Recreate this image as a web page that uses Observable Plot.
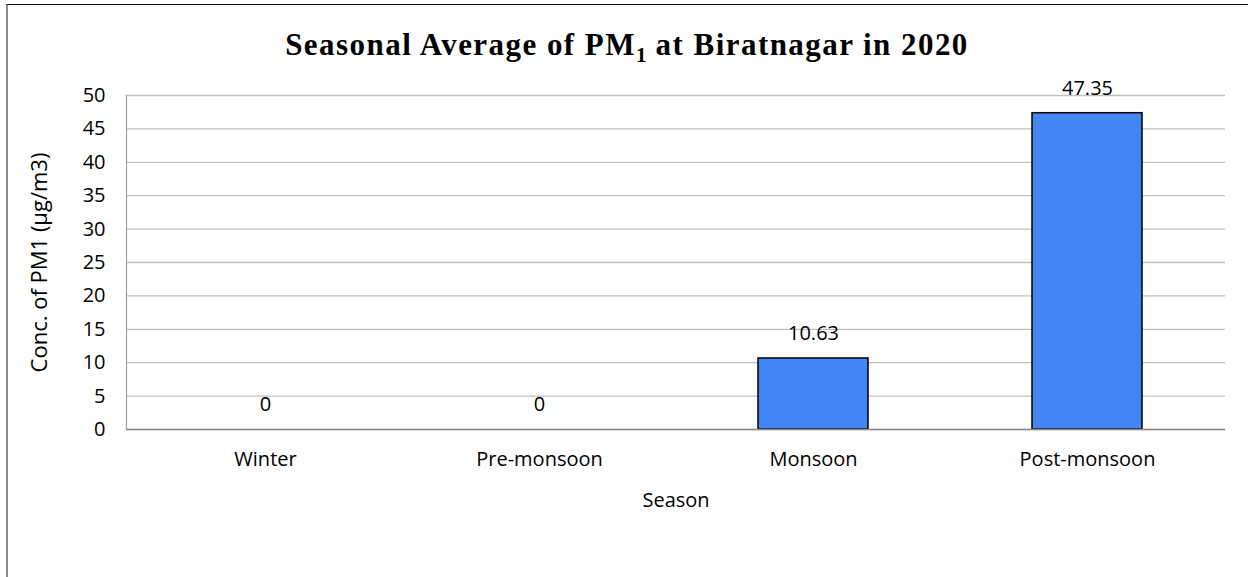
<!DOCTYPE html>
<html>
<head>
<meta charset="utf-8">
<script src="https://cdn.jsdelivr.net/npm/d3@7"></script>
<script src="https://cdn.jsdelivr.net/npm/@observablehq/plot@0.6"></script>
<style>
  html, body { margin: 0; padding: 0; background: #fff; }
  #wrap { position: relative; width: 1248px; height: 577px; overflow: hidden; background: #fff; }
  #frame { position: absolute; left: 6px; top: 4px; width: 1260px; height: 600px;
           border-top: 1.5px solid #111; border-left: 2px solid #8a8a8a; box-sizing: border-box; }
  #title { position: absolute; left: 3px; top: 29px; width: 1248px; text-align: center;
           font-family: "Liberation Serif", serif; font-weight: bold; font-size: 31px; letter-spacing: 1.45px;
           color: #000; line-height: 1; white-space: nowrap; }
  #title sub { font-size: 21px; vertical-align: -7px; line-height: 0; letter-spacing: 0; }
  #chart { position: absolute; left: 0; top: 0; }
</style>
</head>
<body>
<div id="wrap">
  <div id="frame"></div>
  <div id="chart"></div>
  <div id="title">Seasonal Average of PM<sub>1</sub> at Biratnagar in 2020</div>
</div>
<script>
const seasons = ["Winter", "Pre-monsoon", "Monsoon", "Post-monsoon"];
const values = [0, 0, 10.63, 47.35];
const yTicks = [0, 5, 10, 15, 20, 25, 30, 35, 40, 45, 50];
const labels = ["0", "0", "10.63", "47.35"];

const data = seasons.map((s, i) => ({season: s, value: values[i], label: labels[i]}));
const font = "'Open Sans', sans-serif";

const chart = Plot.plot({
  width: 1248,
  height: 577,
  marginLeft: 126,
  marginRight: 23,
  marginTop: 95,
  marginBottom: 148,
  style: {fontFamily: font, fontSize: "20px", color: "#000", background: "transparent", overflow: "visible"},
  x: {domain: seasons, paddingInner: 0.6, paddingOuter: 0.3, label: null},
  y: {domain: [0, 50], label: null},
  marks: [
    Plot.gridY(yTicks, {stroke: "#bfbfbf", strokeOpacity: 1, strokeWidth: 1.3}),
    Plot.barY(data, {x: "season", y: "value", fill: "#4285f4", stroke: "#000", strokeWidth: 1.5}),
    Plot.ruleY([0], {stroke: "#8c8c8c", strokeWidth: 1.5}),
    Plot.axisY(yTicks, {tickSize: 0, tickPadding: 21, fontSize: 20, tickFormat: d => String(d), label: null}),
    Plot.axisX(seasons, {tickSize: 0, tickPadding: 22, fontSize: 20, label: null}),
    Plot.text(data, {x: "season", y: "value", text: "label", dy: -25, lineAnchor: "middle", fontSize: 20, fill: "#000"}),
    Plot.text(["Season"], {frameAnchor: "bottom", dy: 71, lineAnchor: "middle", fontSize: 20, fill: "#000"}),
    Plot.text(["Conc. of PM1 (µg/m3)"], {frameAnchor: "left", dx: -87, rotate: -90, textAnchor: "middle", lineAnchor: "middle", fontSize: 22, fill: "#000"})
  ]
});
// left axis line in gray
d3.select(chart).append("line")
  .attr("x1", 126.5).attr("x2", 126.5).attr("y1", 95).attr("y2", 429.5)
  .attr("stroke", "#a6a6a6").attr("stroke-width", 1.3);
document.getElementById("chart").appendChild(chart);
</script>
</body>
</html>
